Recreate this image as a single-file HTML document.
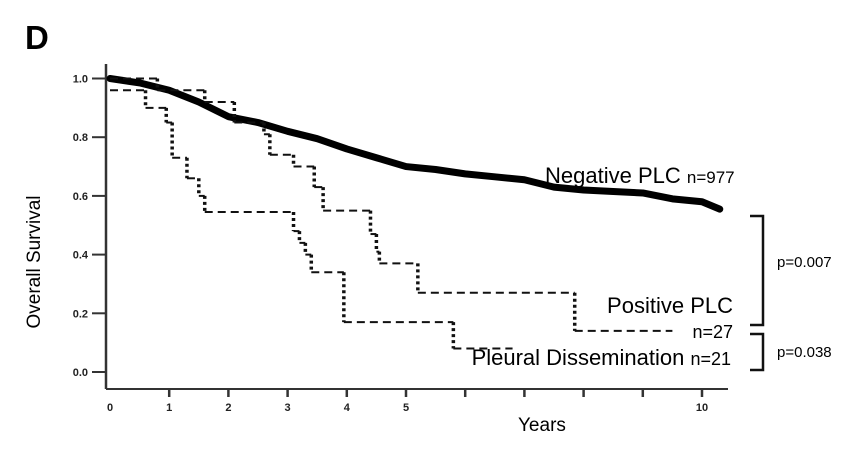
<!DOCTYPE html>
<html><head><meta charset="utf-8"><style>
html,body{margin:0;padding:0;background:#fff;}
svg{display:block;font-family:"Liberation Sans",sans-serif;}
</style></head><body>
<svg id="c" width="861" height="449" viewBox="0 0 861 449">
<text x="25" y="49" font-size="33" font-weight="bold">D</text>
<g id="axes"></g>
<g id="series"></g>
<text x="545" y="183" font-size="22">Negative PLC <tspan font-size="17">n=977</tspan></text>
<text x="733" y="313" font-size="22" text-anchor="end">Positive PLC</text>
<text x="733" y="338" font-size="18" text-anchor="end">n=27</text>
<text x="731" y="365" font-size="22" text-anchor="end">Pleural Dissemination <tspan font-size="18">n=21</tspan></text>
<path d="M750 216 H763 V325 H750" fill="none" stroke="#111" stroke-width="2.5"/>
<path d="M750 334 H763 V370 H750" fill="none" stroke="#111" stroke-width="2.5"/>
<text x="777" y="267" font-size="15">p=0.007</text>
<text x="777" y="357" font-size="15">p=0.038</text>
<text x="518" y="431" font-size="19">Years</text>
<text transform="translate(40,262) rotate(-90)" font-size="19" text-anchor="middle">Overall Survival</text>
</svg>
<script>
const xTicks=[0,1,2,3,4,5,6,7,8,9,10];
const xTickLabels=["0","1","2","3","4","5","","","","","10"];
const yTicks=[0,0.2,0.4,0.6,0.8,1.0];
const yTickLabels=["0.0","0.2","0.4","0.6","0.8","1.0"];
const negTimes=[0,0.5,1,1.5,2,2.5,3,3.5,4,4.5,5,5.5,6,6.5,7,7.5,8,8.5,9,9.5,10,10.3];
const negSurv=[1.0,0.985,0.96,0.92,0.87,0.85,0.82,0.795,0.76,0.73,0.70,0.69,0.675,0.665,0.655,0.63,0.62,0.615,0.61,0.59,0.58,0.555];
const posTimes=[0,0.8,1.6,2.1,2.6,2.7,3.1,3.45,3.6,4.4,4.5,4.55,5.2,7.85];
const posSurv=[1.0,0.96,0.92,0.85,0.81,0.74,0.70,0.63,0.55,0.47,0.41,0.37,0.27,0.14];
const posEnd=9.5;
const disTimes=[0,0.6,0.95,1.05,1.3,1.5,1.6,3.1,3.2,3.3,3.4,3.95,5.8];
const disSurv=[0.96,0.90,0.85,0.73,0.66,0.60,0.545,0.48,0.44,0.40,0.34,0.17,0.08];
const disEnd=6.8;
const X=t=>110+59.2*t, Y=v=>372-293.5*v;
const NS="http://www.w3.org/2000/svg";
const ax=document.getElementById('axes'), sr=document.getElementById('series');
function mk(tag,attrs,parent){const e=document.createElementNS(NS,tag);for(const k in attrs)e.setAttribute(k,attrs[k]);parent.appendChild(e);return e;}
let e=mk('line',{x1:106,y1:64,x2:106,y2:389,stroke:'#333','stroke-width':2.5},ax);


e=mk('line',{x1:106,y1:389,x2:728,y2:389,stroke:'#333','stroke-width':2},ax);


yTicks.forEach((v,i)=>{
 let t=mk('line',{x1:92,x2:106,y1:Y(v),y2:Y(v),stroke:'#333','stroke-width':2},ax);
 
 
 let l=mk('text',{x:88,y:Y(v)+4,'font-size':11,'font-weight':'bold','text-anchor':'end',fill:'#222'},ax);
 l.textContent=yTickLabels[i];
 
 
});
xTicks.forEach((v,i)=>{
 if(v>0){let t=mk('line',{x1:X(v),x2:X(v),y1:389,y2:397,stroke:'#333','stroke-width':2.5},ax);
 
 }
 if(xTickLabels[i]){let l=mk('text',{x:X(v),y:411,'font-size':11,'font-weight':'bold','text-anchor':'middle',fill:'#222'},ax);
 l.textContent=xTickLabels[i];
 
 }
});
// negative curve
let d='M'+negTimes.map((t,i)=>X(t)+' '+Y(negSurv[i])).join(' L');
let n=mk('path',{d:d,fill:'none',stroke:'#000','stroke-width':7,'stroke-linejoin':'round','stroke-linecap':'round'},sr);


function steps(times,surv,end,name){
 const g=mk('g',{},sr);
 
 
 for(let i=0;i<times.length;i++){
  const t1=(i+1<times.length)?times[i+1]:end;
  mk('line',{x1:X(times[i]),x2:X(t1),y1:Y(surv[i]),y2:Y(surv[i]),stroke:'#111','stroke-width':2,'stroke-dasharray':'8 5'},g);
  if(i+1<times.length) mk('line',{x1:X(t1),x2:X(t1),y1:Y(surv[i]),y2:Y(surv[i+1]),stroke:'#111','stroke-width':3.5,'stroke-dasharray':'3 3'},g);
 }
}
steps(posTimes,posSurv,posEnd,'positive-plc-curve');
steps(disTimes,disSurv,disEnd,'dissemination-curve');
</script>
</body></html>
